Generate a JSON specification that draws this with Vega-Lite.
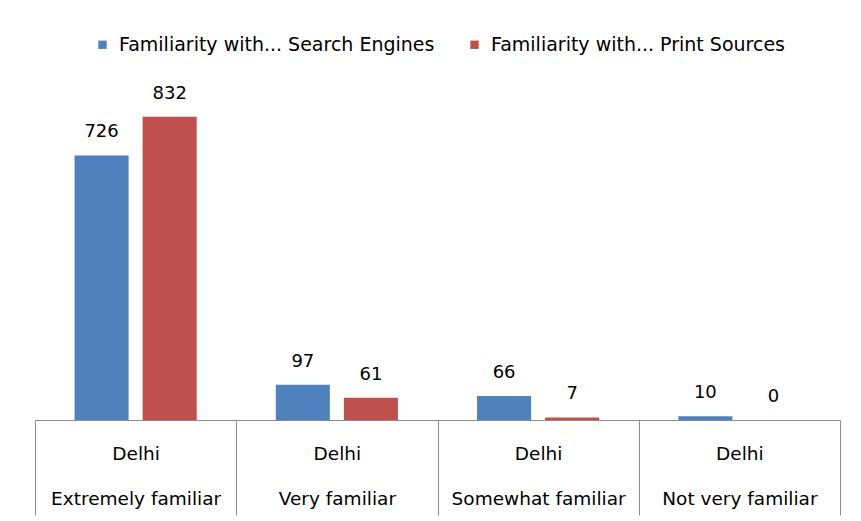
{
  "$schema": "https://vega.github.io/schema/vega-lite/v6.json",
  "width": 805,
  "height": 328,
  "autosize": {"type": "none"},
  "padding": {"left": 35, "top": 92, "right": 21, "bottom": 101},
  "background": "white",
  "config": {
    "view": {"stroke": null},
    "font": "DejaVu Sans",
    "text": {"font": "DejaVu Sans"}
  },
  "data": {
    "values": [
      {"category": "Extremely familiar", "series": "Familiarity with... Search Engines", "value": 726},
      {"category": "Extremely familiar", "series": "Familiarity with... Print Sources", "value": 832},
      {"category": "Very familiar", "series": "Familiarity with... Search Engines", "value": 97},
      {"category": "Very familiar", "series": "Familiarity with... Print Sources", "value": 61},
      {"category": "Somewhat familiar", "series": "Familiarity with... Search Engines", "value": 66},
      {"category": "Somewhat familiar", "series": "Familiarity with... Print Sources", "value": 7},
      {"category": "Not very familiar", "series": "Familiarity with... Search Engines", "value": 10},
      {"category": "Not very familiar", "series": "Familiarity with... Print Sources", "value": 0}
    ]
  },
  "encoding": {
    "x": {
      "field": "category",
      "type": "nominal",
      "sort": ["Extremely familiar", "Very familiar", "Somewhat familiar", "Not very familiar"],
      "scale": {"paddingInner": 0, "paddingOuter": 0},
      "axis": {
        "title": null,
        "zindex": 1,
        "labelAngle": 0,
        "tickBand": "extent",
        "tickSize": 95,
        "tickColor": "#8c8c8c",
        "domainColor": "#8c8c8c",
        "labelPadding": -71,
        "labelBaseline": "top",
        "labelLineHeight": 45,
        "labelFontSize": 18.5,
        "labelColor": "#000000",
        "labelFont": "DejaVu Sans",
        "labelExpr": "datum.label ? ['Delhi', datum.label] : ''"
      }
    },
    "xOffset": {
      "field": "series",
      "type": "nominal",
      "sort": ["Familiarity with... Search Engines", "Familiarity with... Print Sources"],
      "scale": {"paddingInner": 0.206, "paddingOuter": 0.581}
    },
    "y": {
      "field": "value",
      "type": "quantitative",
      "scale": {"domain": [0, 900]},
      "axis": null
    }
  },
  "layer": [
    {
      "mark": {"type": "bar"},
      "encoding": {
        "color": {
          "field": "series",
          "type": "nominal",
          "sort": ["Familiarity with... Search Engines", "Familiarity with... Print Sources"],
          "scale": {
            "domain": ["Familiarity with... Search Engines", "Familiarity with... Print Sources"],
            "range": ["#4F81BD", "#C0504D"]
          },
          "legend": {
            "title": null,
            "orient": "none",
            "direction": "horizontal",
            "legendX": 58,
            "legendY": -57,
            "symbolType": "square",
            "symbolSize": 70,
            "symbolStrokeWidth": 0,
            "labelFontSize": 19,
            "labelFont": "DejaVu Sans",
            "labelColor": "#000000",
            "labelOffset": 7,
            "columnPadding": 30,
            "labelLimit": 400
          }
        }
      }
    },
    {
      "mark": {"type": "text", "baseline": "bottom", "dy": -14, "fontSize": 18, "color": "#000000"},
      "encoding": {
        "text": {"field": "value", "type": "quantitative"}
      }
    }
  ]
}
